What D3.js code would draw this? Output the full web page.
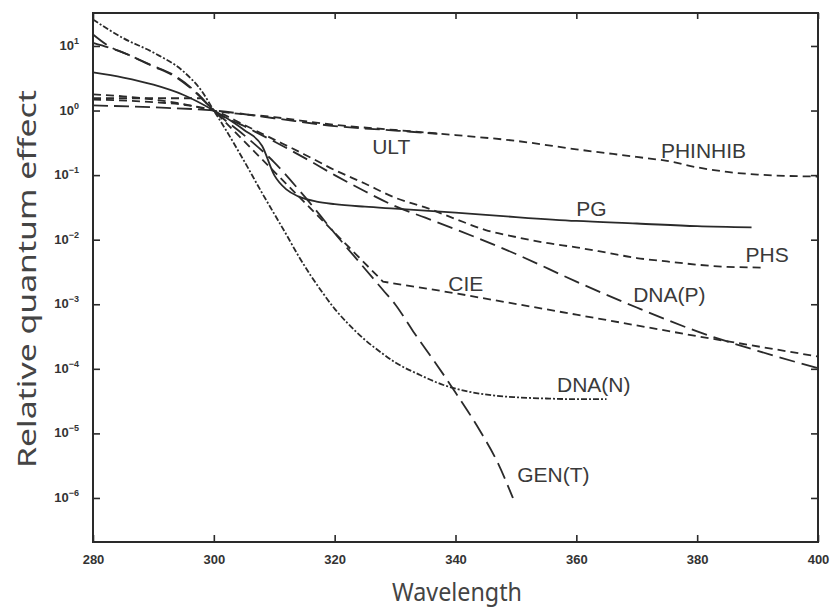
<!DOCTYPE html>
<html><head><meta charset="utf-8">
<script src="https://cdn.jsdelivr.net/npm/d3@7/dist/d3.min.js"></script>
<style>body{margin:0;background:#fff}</style>
</head><body><svg id="c" width="831" height="607"></svg>
<script>
// ---- data ----
const xTicks = [280, 300, 320, 340, 360, 380, 400];
const yTickExps = [1, 0, -1, -2, -3, -4, -5, -6];

const wlULT = [280, 290, 300, 310, 320, 330, 337];
const valULT = [1.2, 1.12, 1, 0.76, 0.575, 0.49, 0.437];

const wlPHINHIB = [280, 285, 290, 295, 300, 310, 320, 330, 340, 350, 360, 370, 375, 380, 385, 390, 400];
const valPHINHIB = [1.78, 1.66, 1.48, 1.26, 1, 0.79, 0.60, 0.50, 0.417, 0.339, 0.251, 0.191, 0.166, 0.132, 0.112, 0.102, 0.095];

const wlPG = [280, 285, 290, 295, 300, 303, 305, 308, 310, 312, 314, 317, 320, 325, 330, 340, 350, 360, 370, 380, 389];
const valPG = [3.9, 3.24, 2.51, 1.74, 1, 0.676, 0.50, 0.282, 0.100, 0.060, 0.0468, 0.0389, 0.0355, 0.0324, 0.0302, 0.0263, 0.0224, 0.0195, 0.0178, 0.0162, 0.0155];

const wlPHS = [280, 290, 295, 300, 305, 310, 315, 320, 325, 330, 335, 340, 345, 350, 355, 360, 365, 370, 375, 380, 385, 391];
const valPHS = [1.48, 1.35, 1.23, 1, 0.60, 0.355, 0.209, 0.120, 0.074, 0.0447, 0.0316, 0.0209, 0.0141, 0.0110, 0.0089, 0.0076, 0.0063, 0.0052, 0.0046, 0.0041, 0.0038, 0.0037];

const wlCIE = [280, 298, 300, 328, 340, 360, 380, 400];
const valCIE = [1.55, 1.55, 1.0, 0.00224, 0.00148, 0.00069, 0.00032, 0.000155];

const wlDNAP = [280, 285, 290, 293, 297, 300, 305, 310, 315, 320, 325, 330, 335, 340, 350, 360, 370, 380, 390, 400];
const valDNAP = [11.2, 7.9, 4.8, 3.6, 1.9, 1, 0.575, 0.331, 0.185, 0.100, 0.0562, 0.0331, 0.0219, 0.0145, 0.0060, 0.00224, 0.00089, 0.00038, 0.00019, 0.000102];

const wlDNAN = [280, 285, 290, 295, 298, 300, 302, 305, 308, 310, 312, 314, 316, 318, 320, 322, 325, 328, 330, 334, 338, 342, 346, 350, 355, 360, 365];
const valDNAN = [25.7, 13.2, 7.9, 4.0, 2.0, 1, 0.50, 0.166, 0.0525, 0.0251, 0.0120, 0.00562, 0.00282, 0.00151, 0.00085, 0.000525, 0.000282, 0.00017, 0.000126, 0.0000813, 0.0000562, 0.0000447, 0.0000389, 0.0000363, 0.0000347, 0.0000339, 0.0000339];

const wlGENT = [280, 283, 285, 290, 293, 297, 300, 305, 310, 315, 320, 325, 328, 330, 333, 337, 340, 344, 347, 349.5];
const valGENT = [15.1, 9.5, 7.9, 4.9, 3.7, 1.95, 1, 0.417, 0.158, 0.0468, 0.0126, 0.00355, 0.00166, 0.001, 0.00038, 0.000112, 0.000043, 0.0000112, 0.0000035, 0.000001];

const labelNames = ["ULT", "PHINHIB", "PG", "PHS", "CIE", "DNA(P)", "DNA(N)", "GEN(T)"];
const labelWl = [326.2, 374, 360, 388, 338.8, 369.4, 356.8, 350.2];
const labelVal = [0.209, 0.186, 0.0229, 0.0045, 0.00158, 0.00107, 0.000043, 0.00000174];

// ---- chart ----
const svg = d3.select("#c");
const L = 93, R = 818, T = 13, B = 542;
const x = d3.scaleLinear().domain([280, 400]).range([L, R]);
const y = d3.scaleLog().domain([2.08e-7, 32.4]).range([B, T]);
const ink = "#2a2a2a";

const series = [
  {wl: wlULT, v: valULT, dash: "15,6", curve: d3.curveMonotoneX},
  {wl: wlPHINHIB, v: valPHINHIB, dash: "8,5", curve: d3.curveMonotoneX},
  {wl: wlPG, v: valPG, dash: null, curve: d3.curveMonotoneX},
  {wl: wlPHS, v: valPHS, dash: "8,5", curve: d3.curveMonotoneX},
  {wl: wlCIE, v: valCIE, dash: "8,5", curve: d3.curveLinear},
  {wl: wlDNAP, v: valDNAP, dash: "16,7", curve: d3.curveMonotoneX},
  {wl: wlDNAN, v: valDNAN, dash: "6,2,2,2", curve: d3.curveMonotoneX},
  {wl: wlGENT, v: valGENT, dash: "17,7", curve: d3.curveMonotoneX}
];

series.forEach(s => {
  const pts = s.wl.map((w, i) => [w, s.v[i]]);
  const line = d3.line().x(d => x(d[0])).y(d => y(d[1])).curve(s.curve);
  const p = svg.append("path").attr("d", line(pts))
    .attr("fill", "none").attr("stroke", ink).attr("stroke-width", 1.8);
  if (s.dash) p.attr("stroke-dasharray", s.dash);
});

// frame
svg.append("rect").attr("x", L).attr("y", T).attr("width", R - L).attr("height", B - T)
  .attr("fill", "none").attr("stroke", ink).attr("stroke-width", 2);

// axes with inward ticks
const tickFont = "'Liberation Sans','Arial',sans-serif";
const xb = svg.append("g").attr("transform", `translate(0,${B})`)
  .call(d3.axisBottom(x).tickValues(xTicks).tickSizeInner(-7).tickSizeOuter(0).tickPadding(13));
const xt = svg.append("g").attr("transform", `translate(0,${T})`)
  .call(d3.axisTop(x).tickValues(xTicks).tickSizeInner(-6).tickSizeOuter(0).tickFormat(""));
const yTickVals = yTickExps.map(e => Math.pow(10, e));
const yl = svg.append("g").attr("transform", `translate(${L},0)`)
  .call(d3.axisLeft(y).tickValues(yTickVals).tickSizeInner(-7).tickSizeOuter(0).tickFormat(""));
const yr = svg.append("g").attr("transform", `translate(${R},0)`)
  .call(d3.axisRight(y).tickValues(yTickVals).tickSizeInner(-7).tickSizeOuter(0).tickFormat(""));
[xb, xt, yl, yr].forEach(g => {
  g.select(".domain").remove();
  g.selectAll(".tick line").attr("stroke", ink).attr("stroke-width", 1.6);
});
xb.selectAll(".tick text").attr("font-family", tickFont).attr("font-weight", "bold")
  .attr("font-size", 13).attr("fill", "#333");

// y tick labels 10^n
yTickExps.forEach(e => {
  const t = svg.append("text").attr("x", 79).attr("y", y(Math.pow(10, e)) + 4)
    .attr("text-anchor", "end").attr("font-family", tickFont).attr("font-weight", "bold")
    .attr("font-size", 13).attr("fill", "#333");
  t.append("tspan").text("10");
  t.append("tspan").attr("dy", -6).attr("font-size", 9).text(e < 0 ? "\u2212" + (-e) : String(e));
});

// axis titles
const titleFont = "'Noto Sans','DejaVu Sans',sans-serif";
svg.append("text").attr("x", 457).attr("y", 601).attr("text-anchor", "middle")
  .attr("font-family", titleFont).attr("font-size", 25).attr("fill", "#444")
  .attr("textLength", 130).attr("lengthAdjust", "spacingAndGlyphs").text("Wavelength");
svg.append("text").attr("transform", "translate(36,279) rotate(-90)").attr("text-anchor", "middle")
  .attr("font-family", titleFont).attr("font-size", 25).attr("fill", "#444")
  .attr("textLength", 378).attr("lengthAdjust", "spacingAndGlyphs").text("Relative quantum effect");

// curve labels
labelNames.forEach((n, i) => {
  svg.append("text").attr("x", x(labelWl[i])).attr("y", y(labelVal[i]))
    .attr("font-family", "'Liberation Sans','Arial',sans-serif").attr("font-size", 21)
    .attr("fill", "#3a3a3a").text(n);
});
</script>
</body></html>
